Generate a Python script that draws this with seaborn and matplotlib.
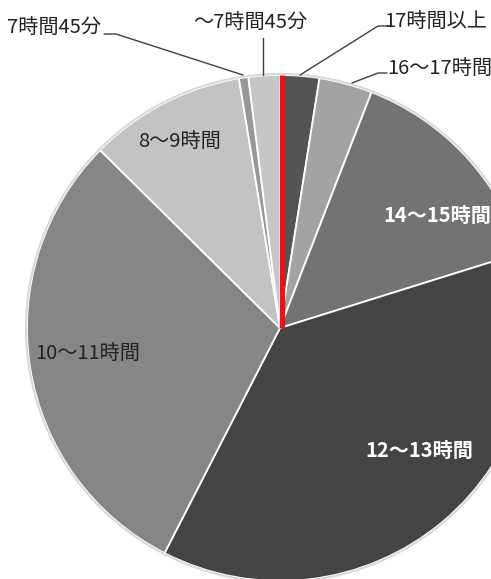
import matplotlib
matplotlib.use("Agg")
import matplotlib.pyplot as plt
import seaborn as sns
import numpy as np

# data
categories = ["17時間以上", "16〜17時間", "14〜15時間", "12〜13時間",
              "10〜11時間", "8〜9時間", "7時間45分", "〜7時間45分"]
shares = [2.5, 3.4, 14.3, 37.4, 29.9, 10.0, 0.6, 2.0]
colors = ["#545454", "#a3a3a3", "#737373", "#444444",
          "#868686", "#c3c3c3", "#989898", "#c6c6c6"]

sns.set_theme(style="white")
plt.rcParams['font.family'] = ['Noto Sans CJK JP', 'DejaVu Sans']

W, H = 491, 579
fig = plt.figure(figsize=(W / 100, H / 100), dpi=100)
ax = fig.add_axes([0, 0, 1, 1])

cx, cy, R = 280, 328, 253


def P(x, y):
    return x, H - y


ax.pie(shares, colors=colors, startangle=90, counterclock=False,
       center=P(cx, cy), radius=R, frame=True,
       wedgeprops=dict(edgecolor="white", linewidth=1.3))
ax.add_patch(plt.Circle(P(cx, cy), R + 1, fill=False, ec="#d9d9d9", lw=1.5))
# red marker line at 12 o'clock
ax.plot([cx + 2.5, cx + 2.5], [H - cy, H - cy + R], color="#e8141b", lw=3.8,
        solid_capstyle="butt")

ax.set_xlim(0, W)
ax.set_ylim(0, H)
ax.set_aspect("equal")
ax.axis("off")

fs = 14.5
lc = "#404040"
# outside labels with leaders
ax.text(*P(7, 27), categories[6], fontsize=fs, color="#222222", va="center", ha="left")
ax.plot(*zip(P(104, 34), P(116, 34), P(243, 75)), color=lc, lw=1)

ax.text(*P(250, 22), categories[7], fontsize=fs, color="#222222", va="center", ha="center")
ax.plot(*zip(P(263, 38), P(263, 75)), color=lc, lw=1)

ax.text(*P(384, 21), categories[0], fontsize=fs, color="#222222", va="center", ha="left")
ax.plot(*zip(P(390, 26), P(378, 26), P(300, 75)), color=lc, lw=1)

ax.text(*P(387, 68), categories[1], fontsize=fs, color="#222222", va="center", ha="left")
ax.plot(*zip(P(387, 73), P(378, 73), P(352, 83)), color=lc, lw=1)

# inside labels
ax.text(*P(383, 215), categories[2], fontsize=fs, color="white", fontweight="bold",
        va="center", ha="left")
ax.text(*P(365, 450), categories[3], fontsize=fs, color="white", fontweight="bold",
        va="center", ha="left")
ax.text(*P(35, 353), categories[4], fontsize=fs, color="#222222", va="center", ha="left")
ax.text(*P(138, 141), categories[5], fontsize=fs, color="#222222", va="center", ha="left")

fig.savefig("out.png", dpi=100, facecolor="white")
